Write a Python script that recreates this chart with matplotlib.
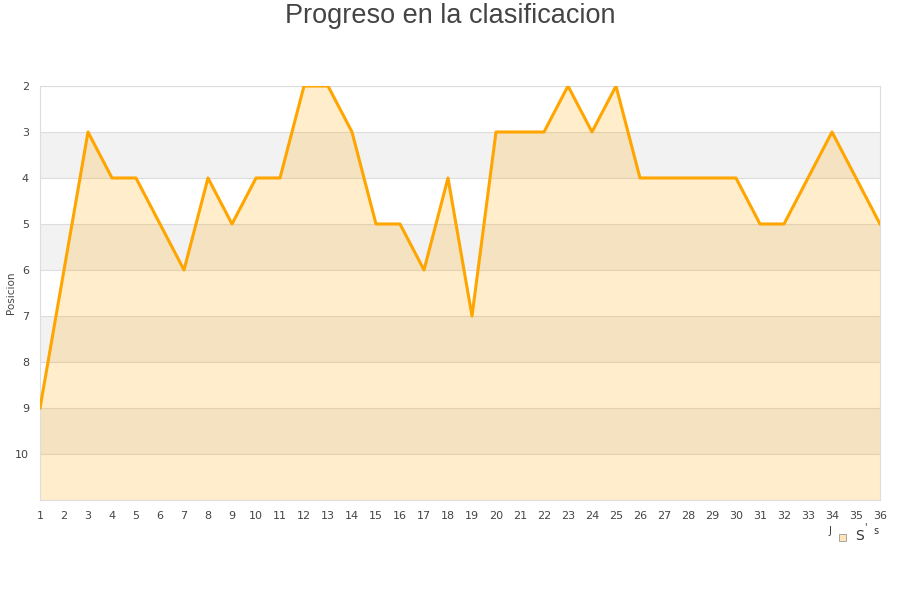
import matplotlib
matplotlib.use("Agg")
import matplotlib.pyplot as plt
from matplotlib.patches import Rectangle

# Jornada -> posicion
jornadas = list(range(1, 37))
posiciones = [9, 6, 3, 4, 4, 5, 6, 4, 5, 4, 4, 2, 2, 3, 5, 5, 6, 4, 7, 3,
              3, 3, 2, 3, 2, 4, 4, 4, 4, 4, 5, 5, 4, 3, 4, 5]
y_ticks = list(range(2, 11))

TITLE = "Progreso en la clasificacion"
Y_LABEL = "Posicion"
LINE_COLOR = "#FFA500"
TEXT_COLOR = "#444444"

fig = plt.figure(figsize=(9, 6), dpi=100)
ax = fig.add_axes([40 / 900, 100 / 600, 840 / 900, 414 / 600])

ax.set_xlim(1, 36)
ax.set_ylim(11, 2)

# alternating horizontal bands
for lo in range(2, 11):
    if lo % 2 == 1:
        ax.axhspan(lo, lo + 1, color="#f2f2f2", zorder=0, lw=0)
for y in range(2, 12):
    ax.axhline(y, color="#dddddd", lw=0.8, zorder=1)

ax.fill_between(jornadas, posiciones, 11, color=LINE_COLOR, alpha=0.2,
                lw=0, zorder=2)
ax.plot(jornadas, posiciones, color=LINE_COLOR, lw=2.2, zorder=3)

ax.set_xticks(jornadas)
ax.set_yticks(y_ticks)
ax.tick_params(length=0, labelsize=8, colors=TEXT_COLOR, pad=8)
for s in ax.spines.values():
    s.set_color("#dddddd")

fig.text(11 / 900, 1 - 293 / 600, Y_LABEL, rotation=90, fontsize=7.5,
         color=TEXT_COLOR, ha="center", va="center")

fig.text(0.5, 1 - 16 / 600, TITLE, ha="center", va="center",
         fontsize=19.5, color=TEXT_COLOR, family="Liberation Sans")

# garbled legend at the bottom right
fig.text(830 / 900, 1 - 531 / 600, "J", fontsize=7, color="#333333",
         ha="center", va="center")
fig.patches.append(Rectangle((839 / 900, 1 - 541 / 600), 7 / 900, 7 / 600,
                             transform=fig.transFigure, facecolor="#FFE4B5",
                             edgecolor="#999999", lw=0.6))
fig.text(860 / 900, 1 - 536 / 600, "S", fontsize=10, color="#333333",
         ha="center", va="center")
fig.text(865 / 900, 1 - 527 / 600, "'", fontsize=7, color="#333333",
         ha="center", va="center")
fig.text(876 / 900, 1 - 531 / 600, "s", fontsize=7, color="#333333",
         ha="center", va="center")

fig.savefig("out.png", dpi=100)
